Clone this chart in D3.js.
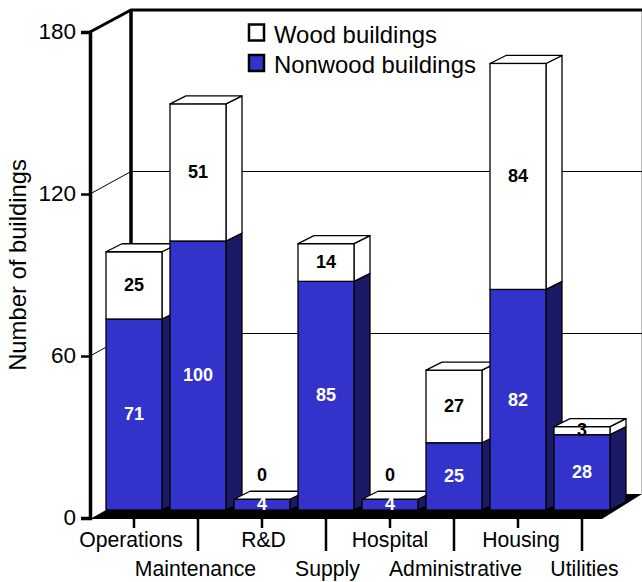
<!DOCTYPE html>
<html>
<head>
<meta charset="utf-8">
<script src="https://cdn.jsdelivr.net/npm/d3@7"></script>
<style>
html,body{margin:0;padding:0;background:#fff}
svg{display:block}
text{font-family:"Liberation Sans",Arial,sans-serif}
</style>
</head>
<body>
<svg id="c" width="642" height="582"></svg>
<script>
const categories = ["Operations","Maintenance","R&D","Supply","Hospital","Administrative","Housing","Utilities"];
const nonwood = [71,100,4,85,4,25,82,28];
const wood = [25,51,0,14,0,27,84,3];
const yTicks = [0,60,120,180];
const seriesNames = ["Wood buildings","Nonwood buildings"];
const BLUE = "#3333cc", DARK = "#1a1a66";

const W = 642, H = 582;
const svg = d3.select("#c");
const y = d3.scaleLinear().domain([0,180]).range([518,32]);
const barY = d3.scaleLinear().domain([0,180]).range([510,25.8]);
const x = d3.scaleBand().domain(categories).range([90,602]).paddingInner(0.125).paddingOuter(0.0625);
const depthX = 41, depthY = 22;      // wall/floor depth
const shiftX = 12;                   // bar offset from the front edge
const barDX = 16, barDY = 8;         // bar depth
const labelNudge = [-3,-2.5,1.5,1.5,0,1.5,3,2.5];

const x0 = 90, xEnd = 602, yBase = y(0), yTop = y(180);

// frame right edge
svg.append("line").attr("x1",641.5).attr("x2",641.5).attr("y1",10).attr("y2",494)
  .attr("stroke","#bbb").attr("stroke-width",1);

// gridlines with diagonals
yTicks.filter(d=>d>0 && d<180).forEach(d=>{
  svg.append("path").attr("fill","none").attr("stroke","#000").attr("stroke-width",1)
    .attr("d",`M${x0},${y(d)}L${x0+depthX},${y(d)-depthY-0.5}L${W},${y(d)-depthY-0.5}`);
});

// floor
svg.append("path").attr("fill","#000")
  .attr("d",`M${x0},${yBase+1}L${x0+depthX},${yBase-depthY}L${W},${yBase-depthY-2}L${xEnd},${yBase+1}Z`);

// walls
svg.append("path").attr("fill","none").attr("stroke","#000").attr("stroke-width",3)
  .attr("d",`M${x0},${yTop}L${x0+depthX},${yTop-depthY}L${W},${yTop-depthY}`);
svg.append("line").attr("x1",x0+depthX).attr("x2",x0+depthX).attr("y1",yTop-depthY).attr("y2",yBase-depthY)
  .attr("stroke","#000").attr("stroke-width",3.5);

// y axis
const yAxis = svg.append("g").attr("transform",`translate(${x0},0)`)
  .call(d3.axisLeft(y).tickValues(yTicks).tickSize(9).tickPadding(5));
yAxis.select(".domain").attr("stroke","#000").attr("stroke-width",3.5);
yAxis.selectAll(".tick line").attr("stroke","#000").attr("stroke-width",2.5);
yAxis.selectAll(".tick text").attr("font-size",22.5).attr("fill","#000").attr("dy","0.3em")
  .style("font-family",'"Liberation Sans",Arial,sans-serif');

svg.append("text").attr("transform","translate(26,265) rotate(-90)")
  .attr("text-anchor","middle").attr("font-size",23.8).text("Number of buildings");

// bars
function box(g,xl,w,yb,yt,front,side){
  const s = "#000";
  g.append("path").attr("fill",side).attr("stroke",s).attr("stroke-width",1.3).attr("stroke-linejoin","round")
    .attr("d",`M${xl+w},${yb}L${xl+w+barDX},${yb-barDY}L${xl+w+barDX},${yt-barDY}L${xl+w},${yt}Z`);
  g.append("rect").attr("x",xl).attr("y",yt).attr("width",w).attr("height",Math.max(0,yb-yt))
    .attr("fill",front).attr("stroke",s).attr("stroke-width",1.3);
}
categories.forEach((c,i)=>{
  const g = svg.append("g");
  const xl = x(c)+shiftX, w = x.bandwidth();
  const yn = barY(nonwood[i]), yw = barY(nonwood[i]+wood[i]), yb = barY(0);
  box(g,xl,w,yb,yn,BLUE,DARK);
  box(g,xl,w,yn,yw,"#fff","#fff");
  g.append("path").attr("fill","#fff").attr("stroke","#000").attr("stroke-width",1.3).attr("stroke-linejoin","round")
    .attr("d",`M${xl},${yw}L${xl+barDX},${yw-barDY}L${xl+w+barDX},${yw-barDY}L${xl+w},${yw}Z`);
});
// value labels
categories.forEach((c,i)=>{
  const cx = x(c)+shiftX+x.bandwidth()/2;
  const yb = barY(0), yn = barY(nonwood[i]), yw = barY(nonwood[i]+wood[i]);
  svg.append("text").attr("x",cx).attr("y",(yb+yn)/2-0.5).attr("dy","0.35em").attr("text-anchor","middle")
    .attr("font-size",18).attr("font-weight","bold").attr("fill","#fff").text(nonwood[i]);
  const ly = wood[i]===0 ? yw-25 : (yn+yw)/2-0.5;
  svg.append("text").attr("x",cx).attr("y",ly).attr("dy","0.35em").attr("text-anchor","middle")
    .attr("font-size",18).attr("font-weight","bold").attr("fill","#000").text(wood[i]);
});

// x ticks and two-row labels
categories.forEach((c,i)=>{
  const cx = x(c)+shiftX+x.bandwidth()/2;
  const alt = i%2===1;
  svg.append("line").attr("x1",cx).attr("x2",cx).attr("y1",yBase+1).attr("y2",alt?551:528)
    .attr("stroke","#000").attr("stroke-width",2.5);
  svg.append("text").attr("x",cx+labelNudge[i]).attr("y",alt?576:547).attr("text-anchor","middle")
    .attr("font-size",21.2).attr("fill","#000").text(c);
});

// legend
const legendY = [32.5,63];
seriesNames.forEach((n,i)=>{
  svg.append("rect").attr("x",249).attr("y",legendY[i]-8).attr("width",15).attr("height",16)
    .attr("fill",i===0?"#fff":BLUE).attr("stroke","#000").attr("stroke-width",2.5);
  svg.append("text").attr("x",274).attr("y",legendY[i]+2).attr("dy","0.35em")
    .attr("font-size",23.9).attr("fill","#000").text(n);
});
</script>
</body>
</html>
